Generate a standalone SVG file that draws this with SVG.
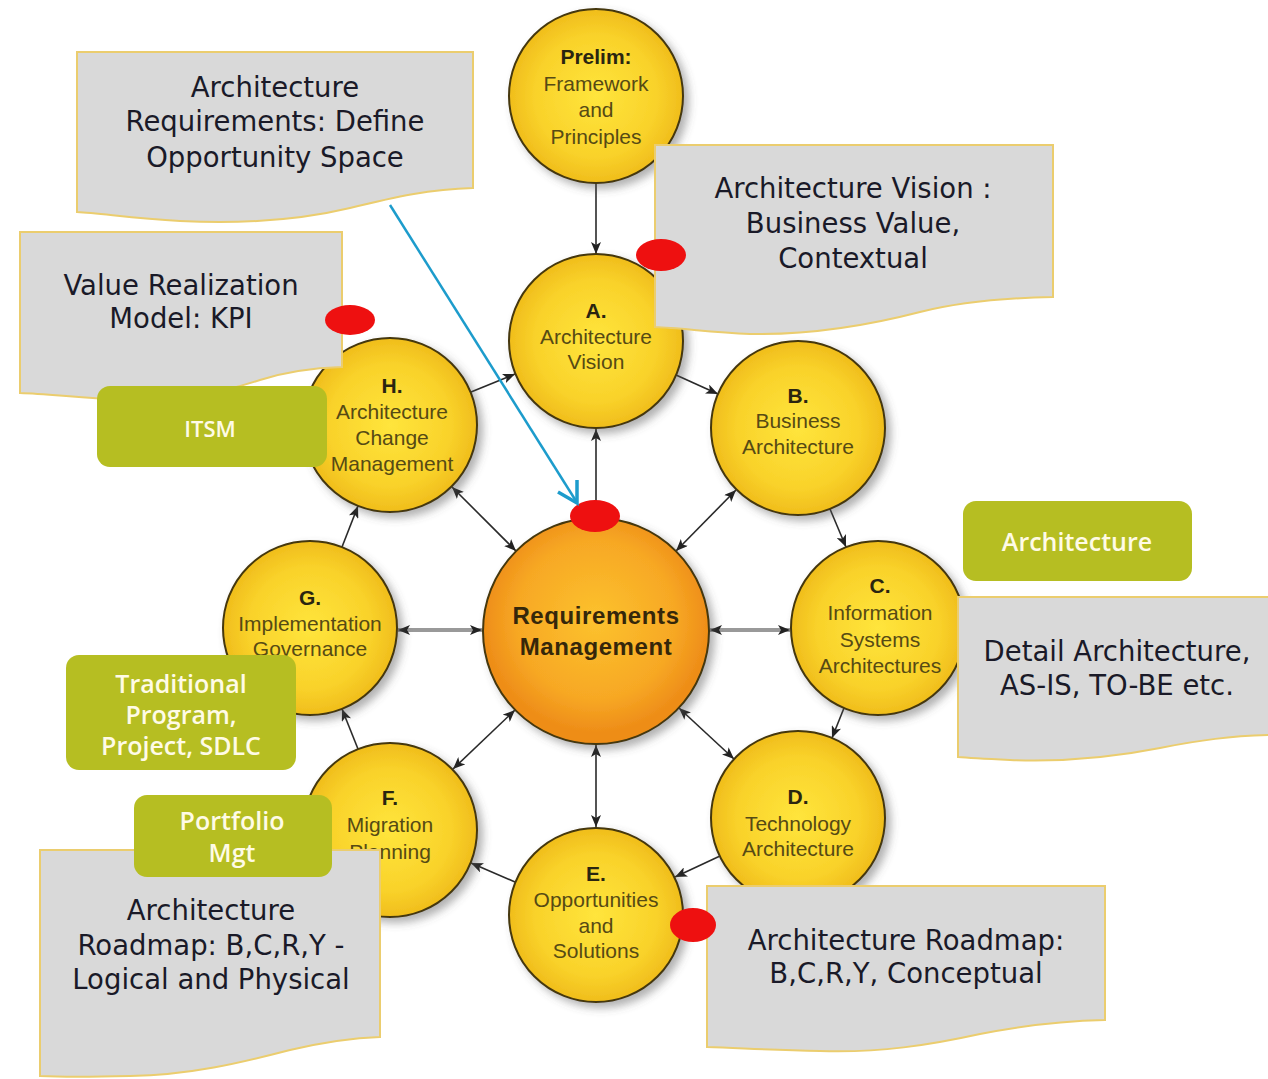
<svg xmlns="http://www.w3.org/2000/svg" width="1268" height="1079" viewBox="0 0 1268 1079">
<defs>
<radialGradient id="gy" cx="50%" cy="50%" r="50%">
<stop offset="0" stop-color="#ffe53c"/>
<stop offset="0.7" stop-color="#f9d22a"/>
<stop offset="1" stop-color="#f0bd1c"/>
</radialGradient>
<radialGradient id="go" cx="50%" cy="45%" r="50%">
<stop offset="0" stop-color="#fcc22e"/>
<stop offset="0.7" stop-color="#f7a824"/>
<stop offset="1" stop-color="#ee8d18"/>
</radialGradient>
<filter id="sh" x="-20%" y="-20%" width="150%" height="150%">
<feDropShadow dx="5" dy="5" stdDeviation="4" flood-color="#555" flood-opacity="0.45"/>
</filter>
<marker id="ah" viewBox="0 0 12 10" refX="12" refY="5" markerWidth="12" markerHeight="10" markerUnits="userSpaceOnUse" orient="auto-start-reverse">
<path d="M0,0 L12,5 L0,10 L3,5 Z" fill="#222"/>
</marker>
</defs>
<style>
.ring{fill:url(#gy);stroke:#45370c;stroke-width:2;filter:url(#sh)}
.core{fill:url(#go);stroke:#45370c;stroke-width:2;filter:url(#sh)}
.lt{font-family:"Liberation Sans",Arial,sans-serif;font-size:21px;font-weight:bold;fill:#2a2510;text-anchor:middle}
.ct{font-family:"Liberation Sans",Arial,sans-serif;font-size:21px;fill:#564a14;text-anchor:middle}
.rt{font-family:"Liberation Sans",Arial,sans-serif;font-size:24px;font-weight:bold;fill:#35270a;text-anchor:middle;letter-spacing:0.6px}
.doc{fill:#d9d9d9;stroke:#ebcd6e;stroke-width:2}
.dt{font-family:"DejaVu Sans",Verdana,sans-serif;font-size:27.5px;fill:#1a1a28;text-anchor:middle}
.gb{fill:#b6be22}
.gt{font-family:"Open Sans","Liberation Sans",sans-serif;font-weight:600;font-size:25px;fill:#fffbe6;text-anchor:middle}
.red{fill:#ee1010}
.cn{stroke:#2a2a2a;stroke-width:1.6;fill:none}
.cg{stroke:#999;stroke-width:4;fill:none}
</style>
<rect width="1268" height="1079" fill="#ffffff"/>

<g id="connectors">
<line class="cn" x1="596" y1="183" x2="596" y2="254" marker-end="url(#ah)"/>
<line class="cn" x1="676" y1="375" x2="718" y2="394" marker-end="url(#ah)"/>
<line class="cn" x1="830" y1="509" x2="846" y2="547" marker-end="url(#ah)"/>
<line class="cn" x1="844" y1="708" x2="832" y2="738" marker-end="url(#ah)"/>
<line class="cn" x1="720" y1="856" x2="675" y2="877" marker-end="url(#ah)"/>
<line class="cn" x1="515" y1="882" x2="471" y2="863" marker-end="url(#ah)"/>
<line class="cn" x1="358" y1="749" x2="342" y2="709" marker-end="url(#ah)"/>
<line class="cn" x1="342" y1="547" x2="358" y2="506" marker-end="url(#ah)"/>
<line class="cn" x1="471" y1="392" x2="515" y2="374" marker-end="url(#ah)"/>
<line class="cn" x1="596" y1="518" x2="596" y2="429" marker-start="url(#ah)" marker-end="url(#ah)"/>
<line class="cn" x1="676" y1="551" x2="736" y2="490" marker-start="url(#ah)" marker-end="url(#ah)"/>
<line class="cg" x1="710" y1="630" x2="790" y2="630" marker-start="url(#ah)" marker-end="url(#ah)"/>
<line class="cn" x1="679" y1="708" x2="734" y2="759" marker-start="url(#ah)" marker-end="url(#ah)"/>
<line class="cn" x1="596" y1="745" x2="596" y2="827" marker-start="url(#ah)" marker-end="url(#ah)"/>
<line class="cn" x1="515" y1="710" x2="453" y2="769" marker-start="url(#ah)" marker-end="url(#ah)"/>
<line class="cg" x1="482" y1="630" x2="398" y2="630" marker-start="url(#ah)" marker-end="url(#ah)"/>
<line class="cn" x1="516" y1="551" x2="452" y2="487" marker-start="url(#ah)" marker-end="url(#ah)"/>
</g>

<g id="node-prelim">
<circle class="ring" cx="596" cy="96" r="87"/>
<text class="lt" x="596" y="64">Prelim:</text>
<text class="ct" x="596" y="91">Framework</text>
<text class="ct" x="596" y="117">and</text>
<text class="ct" x="596" y="144">Principles</text>
</g>
<g id="node-a">
<circle class="ring" cx="596" cy="341" r="87"/>
<text class="lt" x="596" y="318">A.</text>
<text class="ct" x="596" y="344">Architecture</text>
<text class="ct" x="596" y="369">Vision</text>
</g>
<g id="node-b">
<circle class="ring" cx="798" cy="428" r="87"/>
<text class="lt" x="798" y="403">B.</text>
<text class="ct" x="798" y="428">Business</text>
<text class="ct" x="798" y="454">Architecture</text>
</g>
<g id="node-c">
<circle class="ring" cx="878" cy="628" r="87"/>
<text class="lt" x="880" y="593">C.</text>
<text class="ct" x="880" y="620">Information</text>
<text class="ct" x="880" y="647">Systems</text>
<text class="ct" x="880" y="673">Architectures</text>
</g>
<g id="node-d">
<circle class="ring" cx="798" cy="818" r="87"/>
<text class="lt" x="798" y="804">D.</text>
<text class="ct" x="798" y="831">Technology</text>
<text class="ct" x="798" y="856">Architecture</text>
</g>
<g id="node-e">
<circle class="ring" cx="596" cy="915" r="87"/>
<text class="lt" x="596" y="881">E.</text>
<text class="ct" x="596" y="907">Opportunities</text>
<text class="ct" x="596" y="933">and</text>
<text class="ct" x="596" y="958">Solutions</text>
</g>
<g id="node-f">
<circle class="ring" cx="390" cy="830" r="87"/>
<text class="lt" x="390" y="805">F.</text>
<text class="ct" x="390" y="832">Migration</text>
<text class="ct" x="390" y="859">Planning</text>
</g>
<g id="node-g">
<circle class="ring" cx="310" cy="628" r="87"/>
<text class="lt" x="310" y="605">G.</text>
<text class="ct" x="310" y="631">Implementation</text>
<text class="ct" x="310" y="656">Governance</text>
</g>
<g id="node-h">
<circle class="ring" cx="390" cy="425" r="87"/>
<text class="lt" x="392" y="393">H.</text>
<text class="ct" x="392" y="419">Architecture</text>
<text class="ct" x="392" y="445">Change</text>
<text class="ct" x="392" y="471">Management</text>
</g>
<g id="node-req">
<circle class="core" cx="596" cy="631" r="113"/>
<text class="rt" x="596" y="624">Requirements</text>
<text class="rt" x="596" y="655">Management</text>
</g>

<g id="note-requirements">
<path class="doc" d="M77,52 H473 V188 C430,189 395,197 350,208 C300,220 240,224 180,221 C130,218 100,213 77,212 Z"/>
<text class="dt" x="275" y="97">Architecture</text>
<text class="dt" x="275" y="131">Requirements: Define</text>
<text class="dt" x="275" y="167">Opportunity Space</text>
</g>
<g id="note-vision">
<path class="doc" d="M655,145 H1053 V297 C1000,298 960,302 920,312 C870,325 810,335 750,334 C710,332 680,328 655,327 Z"/>
<text class="dt" x="853" y="198">Architecture Vision :</text>
<text class="dt" x="853" y="233">Business Value,</text>
<text class="dt" x="853" y="268">Contextual</text>
</g>
<g id="note-value">
<path class="doc" d="M20,232 H342 V367 C310,368 285,372 260,380 C220,393 180,401 130,400 C80,398 50,394 20,393 Z"/>
<text class="dt" x="181" y="295">Value Realization</text>
<text class="dt" x="181" y="328">Model: KPI</text>
</g>
<g id="note-detail">
<path class="doc" d="M958,597 H1272 V735 C1230,736 1200,740 1160,748 C1110,758 1060,762 1010,760 C990,759 970,758 958,757 Z"/>
<text class="dt" x="1117" y="661">Detail Architecture,</text>
<text class="dt" x="1117" y="695">AS-IS, TO-BE etc.</text>
</g>
<g id="note-roadmap-logical">
<path class="doc" d="M40,850 H380 V1037 C350,1038 320,1043 290,1050 C240,1063 190,1075 130,1076 C90,1077 60,1077 40,1076 Z"/>
<text class="dt" x="211" y="920">Architecture</text>
<text class="dt" x="211" y="955">Roadmap: B,C,R,Y -</text>
<text class="dt" x="211" y="989">Logical and Physical</text>
</g>
<g id="note-roadmap-conceptual">
<path class="doc" d="M707,886 H1105 V1020 C1060,1021 1020,1026 980,1034 C930,1045 880,1053 820,1051 C770,1050 740,1048 707,1047 Z"/>
<text class="dt" x="906" y="950">Architecture Roadmap:</text>
<text class="dt" x="906" y="983">B,C,R,Y, Conceptual</text>
</g>

<g id="tag-itsm">
<rect class="gb" x="97" y="386" width="230" height="81" rx="13"/>
<text class="gt" x="210" y="437" style="font-size:22px">ITSM</text>
</g>
<g id="tag-architecture">
<rect class="gb" x="963" y="501" width="229" height="80" rx="13"/>
<text class="gt" x="1077" y="551">Architecture</text>
</g>
<g id="tag-traditional">
<rect class="gb" x="66" y="655" width="230" height="115" rx="13"/>
<text class="gt" x="181" y="693">Traditional</text>
<text class="gt" x="181" y="724">Program,</text>
<text class="gt" x="181" y="755">Project, SDLC</text>
</g>
<g id="tag-portfolio">
<rect class="gb" x="134" y="795" width="198" height="82" rx="13"/>
<text class="gt" x="232" y="830">Portfolio</text>
<text class="gt" x="232" y="862">Mgt</text>
</g>

<g id="markers">
<ellipse class="red" cx="661" cy="255" rx="25" ry="16"/>
<ellipse class="red" cx="350" cy="320" rx="25" ry="15"/>
<ellipse class="red" cx="595" cy="516" rx="25" ry="16"/>
<ellipse class="red" cx="693" cy="925" rx="23" ry="17"/>
</g>

<g id="blue-arrow">
<line x1="390" y1="205" x2="576" y2="501" stroke="#1d9ccc" stroke-width="2.5"/>
<polyline points="558,492 577,503 577,480" fill="none" stroke="#1d9ccc" stroke-width="3.5" stroke-linejoin="miter"/>
</g>
</svg>
